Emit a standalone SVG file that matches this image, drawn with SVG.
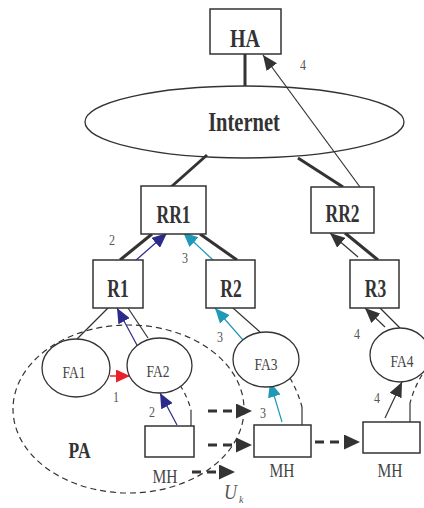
<svg xmlns="http://www.w3.org/2000/svg" width="424" height="508" viewBox="0 0 424 508">
<defs>
<marker id="mBlue" viewBox="0 0 10 10" refX="10" refY="5" markerWidth="15" markerHeight="13" markerUnits="userSpaceOnUse" orient="auto" preserveAspectRatio="none"><path d="M0,0 L10,5 L0,10 z" fill="#2b2b8c"/></marker>
<marker id="mCyan" viewBox="0 0 10 10" refX="10" refY="5" markerWidth="15" markerHeight="13" markerUnits="userSpaceOnUse" orient="auto" preserveAspectRatio="none"><path d="M0,0 L10,5 L0,10 z" fill="#1e9ab8"/></marker>
<marker id="mRed" viewBox="0 0 10 10" refX="10" refY="5" markerWidth="14" markerHeight="13" markerUnits="userSpaceOnUse" orient="auto" preserveAspectRatio="none"><path d="M0,0 L10,5 L0,10 z" fill="#e8202a"/></marker>
<marker id="mBlack" viewBox="0 0 10 10" refX="10" refY="5" markerWidth="15" markerHeight="13" markerUnits="userSpaceOnUse" orient="auto" preserveAspectRatio="none"><path d="M0,0 L10,5 L0,10 z" fill="#333"/></marker>
<marker id="mDash" viewBox="0 0 10 10" refX="10" refY="5" markerWidth="16" markerHeight="15" markerUnits="userSpaceOnUse" orient="auto" preserveAspectRatio="none"><path d="M0,0 L10,5 L0,10 z" fill="#333"/></marker>
</defs>
<style>
.box{fill:#fff;stroke:#333;stroke-width:1.5}
.ell{fill:#fff;stroke:#333;stroke-width:1.3}
.thick{stroke:#333;stroke-width:3;fill:none}
.thin{stroke:#333;stroke-width:1.2;fill:none}
.dash{stroke:#333;stroke-width:1.2;fill:none;stroke-dasharray:5,4}
.darr{stroke:#333;stroke-width:3;fill:none;stroke-dasharray:9,6}
.big{font-family:"Liberation Serif",serif;font-weight:bold;fill:#333;text-anchor:middle}
.lab{font-family:"Liberation Serif",serif;fill:#444;text-anchor:middle}
.num{font-family:"Liberation Serif",serif;fill:#555;text-anchor:middle;font-size:12px}
</style>
<rect width="424" height="508" fill="#fff"/>
<ellipse id="PA" cx="128.5" cy="409" rx="115.5" ry="84" fill="none" stroke="#333" stroke-width="1.2" stroke-dasharray="6,4"/>
<g id="Internet"><ellipse cx="244.5" cy="122" rx="159.5" ry="36" fill="none" stroke="#333" stroke-width="1.3"/><text class="big" font-size="20.5" transform="translate(244,131) scale(1,1.3)">Internet</text></g>
<g id="connectors">
<line class="thick" x1="245" y1="54" x2="245" y2="86"/>
<line class="thick" x1="207" y1="155" x2="171" y2="187"/>
<line class="thick" x1="298" y1="158" x2="343" y2="187"/>
<line class="thick" x1="152" y1="234" x2="120" y2="260"/>
<line class="thick" x1="200" y1="234" x2="237" y2="260"/>
<line class="thick" x1="345" y1="233" x2="378" y2="260"/>
<line class="thin" x1="108" y1="308" x2="77" y2="339"/>
<line class="thin" x1="128" y1="308" x2="148" y2="338"/>
<line class="thin" x1="233" y1="308" x2="260" y2="332"/>
<line class="thin" x1="380" y1="308" x2="400" y2="328"/>
<line class="thin" x1="360" y1="187" x2="263" y2="55" marker-end="url(#mBlack)"/>
<line x1="135" y1="261" x2="167" y2="233" stroke="#2b2b8c" stroke-width="1.2" marker-end="url(#mBlue)"/>
<line x1="213" y1="260" x2="183" y2="232" stroke="#1e9ab8" stroke-width="1.2" marker-end="url(#mCyan)"/>
<line class="thin" x1="358" y1="257" x2="330" y2="233" marker-end="url(#mBlack)"/>
<line x1="138" y1="347" x2="117" y2="308" stroke="#2b2b8c" stroke-width="1.2" marker-end="url(#mBlue)"/>
<line x1="243" y1="340" x2="215" y2="308" stroke="#1e9ab8" stroke-width="1.2" marker-end="url(#mCyan)"/>
<line class="thin" x1="385" y1="327" x2="365" y2="308" marker-end="url(#mBlack)"/>
<line x1="110" y1="376" x2="130" y2="376" stroke="#e8202a" stroke-width="1.5" marker-end="url(#mRed)"/>
<line x1="177" y1="425" x2="160" y2="393" stroke="#2b2b8c" stroke-width="1.2" marker-end="url(#mBlue)"/>
<line x1="282" y1="422" x2="270" y2="382" stroke="#1e9ab8" stroke-width="1.2" marker-end="url(#mCyan)"/>
<line class="thin" x1="385" y1="418" x2="402" y2="382" marker-end="url(#mBlack)"/>
<path class="dash" d="M180,385 Q188,398 191,410"/>
<line class="thin" x1="191" y1="410" x2="191" y2="426"/>
<path class="dash" d="M290,378 Q298,392 302,407"/>
<line class="thin" x1="302" y1="407" x2="302" y2="425"/>
<path class="dash" d="M422,375 Q414,388 410,403"/>
<line class="thin" x1="410" y1="403" x2="410" y2="422"/>
<line class="darr" x1="208" y1="411" x2="252" y2="411" marker-end="url(#mDash)"/>
<line class="darr" x1="208" y1="445" x2="252" y2="445" marker-end="url(#mDash)"/>
<line class="darr" x1="192" y1="472" x2="235" y2="472" marker-end="url(#mDash)"/>
<line class="darr" x1="315" y1="442" x2="360" y2="442" marker-end="url(#mDash)"/>
</g>
<g id="HA"><rect class="box" x="210" y="9" width="71" height="45"/><text class="big" font-size="20" transform="translate(245,46.5) scale(1,1.3)">HA</text></g>
<g id="RR1"><rect class="box" x="141" y="186" width="65" height="48"/><text class="big" font-size="17.5" transform="translate(173.5,223) scale(1,1.4)">RR1</text></g>
<g id="RR2"><rect class="box" x="311" y="187" width="63" height="46"/><text class="big" font-size="17.5" transform="translate(342.5,222) scale(1,1.4)">RR2</text></g>
<g id="R1"><rect class="box" x="93" y="260" width="50" height="48"/><text class="big" font-size="17.5" transform="translate(118,297) scale(1,1.4)">R1</text></g>
<g id="R2"><rect class="box" x="206" y="260" width="49" height="48"/><text class="big" font-size="17.5" transform="translate(231,297) scale(1,1.4)">R2</text></g>
<g id="R3"><rect class="box" x="350" y="260" width="49" height="48"/><text class="big" font-size="17.5" transform="translate(375.5,297) scale(1,1.4)">R3</text></g>
<g id="FA1"><ellipse class="ell" cx="76" cy="368" rx="34" ry="29"/><text class="lab" font-size="13.5" transform="translate(74,378) scale(1,1.3)">FA1</text></g>
<g id="FA2"><ellipse class="ell" cx="159.5" cy="365.5" rx="32.5" ry="27.5"/><text class="lab" font-size="13.5" transform="translate(158,377) scale(1,1.3)">FA2</text></g>
<g id="FA3"><ellipse class="ell" cx="266" cy="359.5" rx="33" ry="27.5"/><text class="lab" font-size="13.5" transform="translate(266,370) scale(1,1.3)">FA3</text></g>
<g id="FA4"><ellipse class="ell" cx="400" cy="355" rx="30" ry="27"/><text class="lab" font-size="13.5" transform="translate(402,367) scale(1,1.3)">FA4</text></g>
<g id="MH1"><rect class="box" x="145" y="426" width="49" height="31"/><text class="lab" font-size="15.5" transform="translate(165,483) scale(1,1.15)">MH</text></g>
<g id="MH2"><rect class="box" x="254" y="425" width="57" height="32"/><text class="lab" font-size="15.5" transform="translate(282,477) scale(1,1.15)">MH</text></g>
<g id="MH3"><rect class="box" x="363" y="422" width="57" height="31"/><text class="lab" font-size="15.5" transform="translate(390,477) scale(1,1.15)">MH</text></g>
<g id="labels">
<text class="big" font-size="17.5" transform="translate(79.5,458) scale(1,1.3)">PA</text>
<text class="num" transform="translate(303,70) scale(1,1.3)">4</text>
<text class="num" transform="translate(112,245) scale(1,1.3)">2</text>
<text class="num" transform="translate(185,263) scale(1,1.3)">3</text>
<text class="num" transform="translate(116,402) scale(1,1.3)">1</text>
<text class="num" transform="translate(152,417) scale(1,1.3)">2</text>
<text class="num" transform="translate(220,342) scale(1,1.3)">3</text>
<text class="num" transform="translate(263,418) scale(1,1.3)">3</text>
<text class="num" transform="translate(357,339) scale(1,1.3)">4</text>
<text class="num" transform="translate(377,403) scale(1,1.3)">4</text>
<text font-family="Liberation Serif,serif" font-style="italic" fill="#555" font-size="18" transform="translate(224,499) scale(1,1.2)">U</text>
<text font-family="Liberation Serif,serif" font-style="italic" fill="#555" font-size="10" x="239" y="503">k</text>
</g>
</svg>
